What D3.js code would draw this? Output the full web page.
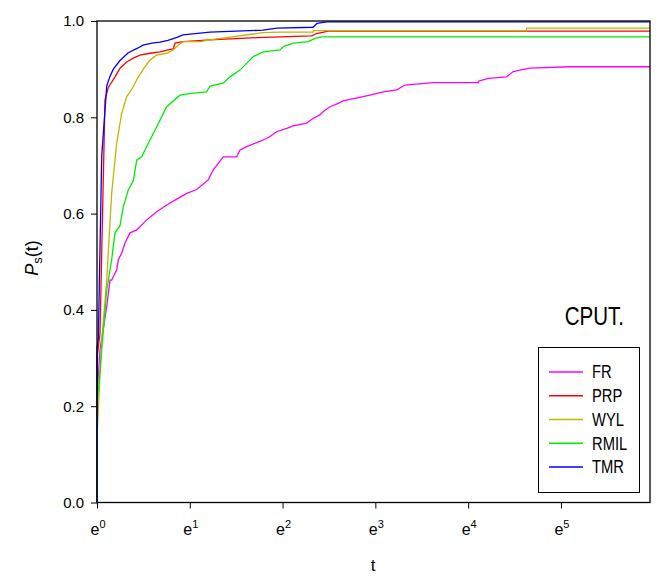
<!DOCTYPE html>
<html>
<head>
<meta charset="utf-8">
<script src="https://cdn.jsdelivr.net/npm/d3@7"></script>
<style>
  body { margin: 0; background: #fff; }
  svg { display: block; }
  text { font-family: "Liberation Sans", Arial, sans-serif; fill: #000; }
</style>
</head>
<body>
<div id="chart"></div>
<script>
// chart size
var svgWidth = 666;
var svgHeight = 576;

// plot box in pixels
var plotLeft = 97, plotRight = 650, plotTop = 21, plotBottom = 502.5;

// the fonts in the picture are condensed, squeeze some text by this
var narrow = 0.82;

// x values are ln(t), so tick k is e^k
var xTicks = [0, 1, 2, 3, 4, 5];
var yTicks = [0, 0.2, 0.4, 0.6, 0.8, 1.0];

var names = ['FR', 'PRP', 'WYL', 'RMIL', 'TMR'];
var colors = ['#ff00ff', '#ff0000', '#c8b400', '#00ee00', '#0000ff'];

// [ln t, Ps(t)]
var fr = [[0,0],[0,0.22],[0.032,0.317],[0.105,0.407],[0.14,0.462],[0.158,0.462],[0.176,0.469],[0.212,0.483],[0.23,0.504],[0.266,0.518],[0.302,0.539],[0.356,0.56],[0.428,0.566],[0.536,0.587],[0.643,0.604],[0.751,0.618],[0.859,0.63],[0.967,0.642],[1.074,0.65],[1.199,0.67],[1.253,0.691],[1.361,0.718],[1.505,0.718],[1.541,0.732],[1.613,0.739],[1.829,0.756],[1.864,0.76],[1.936,0.77],[2.044,0.777],[2.115,0.782],[2.26,0.788],[2.331,0.798],[2.403,0.805],[2.439,0.812],[2.511,0.822],[2.6,0.829],[2.654,0.834],[2.726,0.837],[2.942,0.846],[3.085,0.853],[3.23,0.857],[3.319,0.867],[3.624,0.872],[4.109,0.872],[4.109,0.875],[4.181,0.879],[4.217,0.881],[4.415,0.884],[4.486,0.895],[4.558,0.898],[4.666,0.902],[5.097,0.905],[5.96,0.905]];

var prp = [[0,0],[0,0.3],[0.032,0.35],[0.086,0.836],[0.122,0.862],[0.194,0.884],[0.248,0.902],[0.32,0.915],[0.391,0.923],[0.463,0.929],[0.571,0.933],[0.679,0.936],[0.768,0.94],[0.822,0.942],[0.841,0.954],[0.93,0.957],[1.218,0.961],[1.792,0.966],[1.972,0.967],[2.314,0.969],[2.367,0.974],[2.492,0.979],[5.96,0.979]];

var wyl = [[0,0],[0,0.135],[0.051,0.337],[0.105,0.462],[0.158,0.642],[0.212,0.746],[0.266,0.808],[0.32,0.843],[0.356,0.853],[0.391,0.864],[0.445,0.884],[0.517,0.905],[0.571,0.919],[0.643,0.929],[0.751,0.933],[0.822,0.94],[0.876,0.95],[0.93,0.957],[1.11,0.957],[1.253,0.962],[1.684,0.973],[1.792,0.976],[1.972,0.977],[2.328,0.977],[2.331,0.98],[4.63,0.98],[4.63,0.985],[5.96,0.985]];

var rmil = [[0,0],[0,0.199],[0.051,0.317],[0.105,0.441],[0.158,0.504],[0.194,0.56],[0.248,0.575],[0.283,0.614],[0.337,0.649],[0.391,0.668],[0.428,0.711],[0.482,0.718],[0.517,0.732],[0.571,0.753],[0.679,0.794],[0.751,0.822],[0.894,0.846],[1.038,0.85],[1.182,0.853],[1.218,0.865],[1.361,0.871],[1.433,0.884],[1.541,0.898],[1.613,0.912],[1.684,0.926],[1.792,0.936],[1.972,0.94],[2.008,0.947],[2.115,0.954],[2.277,0.957],[2.349,0.964],[2.421,0.967],[5.96,0.967]];

var tmr = [[0,0],[0,0.32],[0.014,0.34],[0.051,0.72],[0.105,0.865],[0.14,0.885],[0.176,0.9],[0.248,0.918],[0.337,0.934],[0.431,0.943],[0.496,0.95],[0.593,0.954],[0.679,0.956],[0.765,0.96],[0.862,0.966],[0.927,0.971],[1.218,0.977],[1.789,0.981],[1.94,0.985],[2.328,0.987],[2.371,0.995],[2.478,0.998],[5.96,0.998]];

var series = [fr, prp, wyl, rmil, tmr];

var svg = d3.select('#chart')
  .append('svg')
  .attr('width', svgWidth)
  .attr('height', svgHeight);

var xScale = d3.scaleLinear().domain([0, 5.96]).range([plotLeft, plotRight]);
var yScale = d3.scaleLinear().domain([0, 1]).range([plotBottom, plotTop]);

// y axis
var yAxis = d3.axisLeft(yScale)
  .tickValues(yTicks)
  .tickSize(6)
  .tickPadding(7)
  .tickFormat(d3.format('.1f'));

var yG = svg.append('g')
  .attr('transform', `translate(${plotLeft}, 0)`)
  .call(yAxis);
yG.select('.domain').remove();
yG.attr('font-family', null).attr('font-size', null);
yG.selectAll('text').style('font-size', '15px');
yG.selectAll('line').attr('stroke', '#000');

// x axis, labels drawn as e^k
var xAxis = d3.axisBottom(xScale)
  .tickValues(xTicks)
  .tickSize(6)
  .tickFormat('');

var xG = svg.append('g')
  .attr('transform', `translate(0, ${plotBottom})`)
  .call(xAxis);
xG.select('.domain').remove();
xG.selectAll('line').attr('stroke', '#000');

var xLab = svg.append('g').selectAll('text')
  .data(xTicks)
  .enter()
  .append('text')
  .attr('x', d => xScale(d) + 1)
  .attr('y', 535)
  .attr('text-anchor', 'middle')
  .style('font-size', '16px');
xLab.append('tspan').text('e');
xLab.append('tspan')
  .attr('dy', -7)
  .style('font-size', '11px')
  .text(d => d);

// curves
var line = d3.line()
  .x(d => xScale(d[0]))
  .y(d => yScale(d[1]));

svg.append('g').selectAll('path')
  .data(series)
  .enter()
  .append('path')
  .attr('d', line)
  .attr('fill', 'none')
  .attr('stroke', (d, i) => colors[i])
  .attr('stroke-width', 1.3);

// frame
svg.append('rect')
  .attr('x', plotLeft)
  .attr('y', plotTop)
  .attr('width', plotRight - plotLeft)
  .attr('height', plotBottom - plotTop)
  .attr('fill', 'none')
  .attr('stroke', '#000')
  .attr('stroke-width', 1.3);

// axis titles
svg.append('text')
  .attr('x', 373)
  .attr('y', 571)
  .attr('text-anchor', 'middle')
  .style('font-size', '17px')
  .text('t');

var yTitle = svg.append('text')
  .attr('transform', 'translate(38, 258) rotate(-90)')
  .attr('text-anchor', 'middle')
  .style('font-size', '18px');
yTitle.append('tspan').style('font-style', 'italic').text('P');
yTitle.append('tspan').attr('dy', 4).style('font-size', '13px').text('s');
yTitle.append('tspan').attr('dy', -4).text('(t)');

// panel label
svg.append('text')
  .attr('transform', `translate(624, 325) scale(${narrow}, 1)`)
  .attr('text-anchor', 'end')
  .style('font-size', '25px')
  .text('CPUT.');

// legend
var legend = svg.append('g');
legend.append('rect')
  .attr('x', 538.5)
  .attr('y', 347.5)
  .attr('width', 101)
  .attr('height', 145)
  .attr('fill', '#fff')
  .attr('stroke', '#000')
  .attr('stroke-width', 1);

var legY = d3.scalePoint().domain(names).range([372, 467]);

var items = legend.selectAll('g.item')
  .data(names)
  .enter()
  .append('g')
  .attr('class', 'item');

items.append('line')
  .attr('x1', 549)
  .attr('x2', 583)
  .attr('y1', d => legY(d))
  .attr('y2', d => legY(d))
  .attr('stroke', (d, i) => colors[i])
  .attr('stroke-width', 1.3);

items.append('text')
  .attr('transform', d => `translate(592, ${legY(d)}) scale(${narrow}, 1)`)
  .attr('dy', '0.36em')
  .style('font-size', '18px')
  .text(d => d);
</script>
</body>
</html>
